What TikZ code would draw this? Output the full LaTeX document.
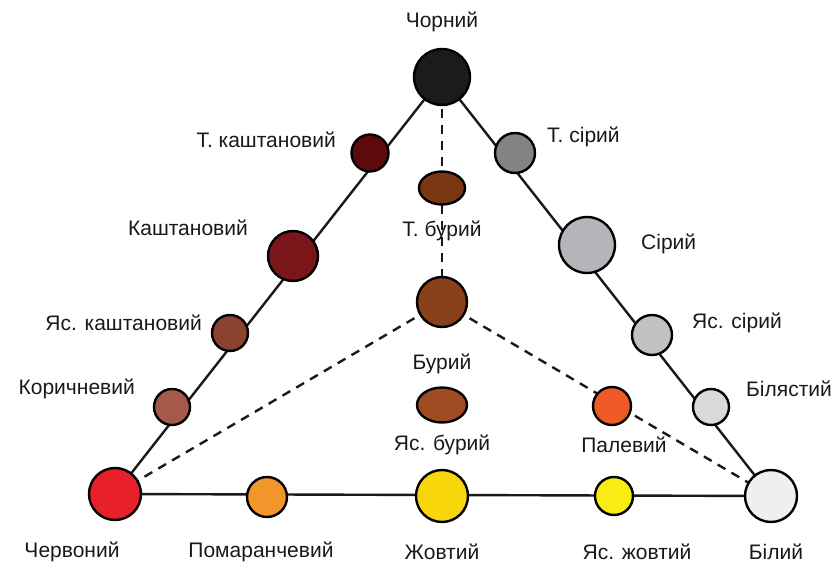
\documentclass[tikz,border=0pt]{standalone}
\usepackage{fontspec}
\setmainfont{Liberation Sans}
\definecolor{cblack}{HTML}{1C1A1A}
\definecolor{ctkasht}{HTML}{5C0A0C}
\definecolor{ckasht}{HTML}{7A1519}
\definecolor{cyakasht}{HTML}{8B4230}
\definecolor{ckor}{HTML}{A5594A}
\definecolor{cred}{HTML}{E8202A}
\definecolor{corange}{HTML}{F0962A}
\definecolor{cyellow}{HTML}{F8D60C}
\definecolor{cyayellow}{HTML}{F8EC14}
\definecolor{cwhite}{HTML}{EFEFEF}
\definecolor{cbil}{HTML}{D9D9DA}
\definecolor{cyagrey}{HTML}{C2C2C5}
\definecolor{cgrey}{HTML}{B5B5B9}
\definecolor{ctgrey}{HTML}{818385}
\definecolor{ctbur}{HTML}{7A3812}
\definecolor{cbur}{HTML}{88401A}
\definecolor{cyabur}{HTML}{A04C22}
\definecolor{cpal}{HTML}{EE5A28}
\tikzset{
  dot/.style={circle, draw=black, line width=2.4pt, inner sep=0pt, minimum size=#1},
  oval/.style={ellipse, draw=black, line width=2.4pt, inner sep=0pt, minimum width=#1},
  lbl/.style={font=\fontsize{21}{23}\selectfont, inner sep=0pt, text=black!90},
  edge/.style={line width=2.4pt, black!90},
  dashedge/.style={line width=2.4pt, black!90, dash pattern=on 9pt off 7pt}
}
\usetikzlibrary{shapes.geometric}
\begin{document}
\begin{tikzpicture}[x=1pt,y=-1pt]
\useasboundingbox (0,0) rectangle (836,567);
% coordinates of node centres
\coordinate (pK) at (442,77);
\coordinate (pR) at (115,494);
\coordinate (pW) at (771,496);
\coordinate (pB) at (442,302);
% connectors
\draw[edge] (pK) -- (pR);
\draw[edge] (pK) -- (pW);
\draw[edge] (pR) -- (pW);
\draw[dashedge] (pK) -- (pB);
\draw[dashedge] (pB) -- (pR);
\draw[dashedge] (pB) -- (pW);
% nodes
\node[dot=56pt, fill=cblack] (black) at (pK) {};
\node[dot=37pt, fill=ctkasht] (tkasht) at (370,153) {};
\node[dot=50pt, fill=ckasht] (kasht) at (293,256) {};
\node[dot=36pt, fill=cyakasht] (yakasht) at (230,333) {};
\node[dot=36pt, fill=ckor] (kor) at (172,407) {};
\node[dot=52pt, fill=cred] (red) at (pR) {};
\node[dot=40pt, fill=corange] (orange) at (267,497) {};
\node[dot=52pt, fill=cyellow] (yellow) at (442,496) {};
\node[dot=38pt, fill=cyayellow] (yayellow) at (614,496) {};
\node[dot=52pt, fill=cwhite] (white) at (pW) {};
\node[dot=36pt, fill=cbil] (bil) at (711,407) {};
\node[dot=40pt, fill=cyagrey] (yagrey) at (652,335) {};
\node[dot=56pt, fill=cgrey] (grey) at (587,245) {};
\node[dot=40pt, fill=ctgrey] (tgrey) at (515,153) {};
\node[oval=46pt, minimum height=33pt, fill=ctbur] (tbur) at (442,188) {};
\node[dot=50pt, fill=cbur] (bur) at (pB) {};
\node[oval=50pt, minimum height=35pt, fill=cyabur] (yabur) at (442,405) {};
\node[dot=38pt, fill=cpal] (pal) at (612,406) {};
% labels
\node[lbl] (lblack) at (442,22) {Чорний};
\node[lbl, anchor=east] (ltkasht) at (336,140) {Т. каштановий};
\node[lbl, anchor=east] (lkasht) at (248,228) {Каштановий};
\node[lbl, anchor=east] (lyakasht) at (202,323) {Яс. каштановий};
\node[lbl, anchor=east] (lkor) at (135,389) {Коричневий};
\node[lbl, anchor=west] (ltgrey) at (547,137) {Т. сірий};
\node[lbl, anchor=west] (lgrey) at (641,244) {Сірий};
\node[lbl, anchor=west] (lyagrey) at (692,323) {Яс. сірий};
\node[lbl, anchor=west] (lbil) at (746,389) {Білястий};
\node[lbl] (ltbur) at (442,231) {Т. бурий};
\node[lbl] (lbur) at (442,364) {Бурий};
\node[lbl] (lyabur) at (442,445) {Яс. бурий};
\node[lbl] (lpal) at (624,445) {Палевий};
\node[lbl] (lred) at (72,552) {Червоний};
\node[lbl] (lorange) at (261,552) {Помаранчевий};
\node[lbl] (lyellow) at (442,552) {Жовтий};
\node[lbl] (lyayellow) at (637,552) {Яс. жовтий};
\node[lbl] (lwhite) at (776,552) {Білий};
\end{tikzpicture}
\end{document}
